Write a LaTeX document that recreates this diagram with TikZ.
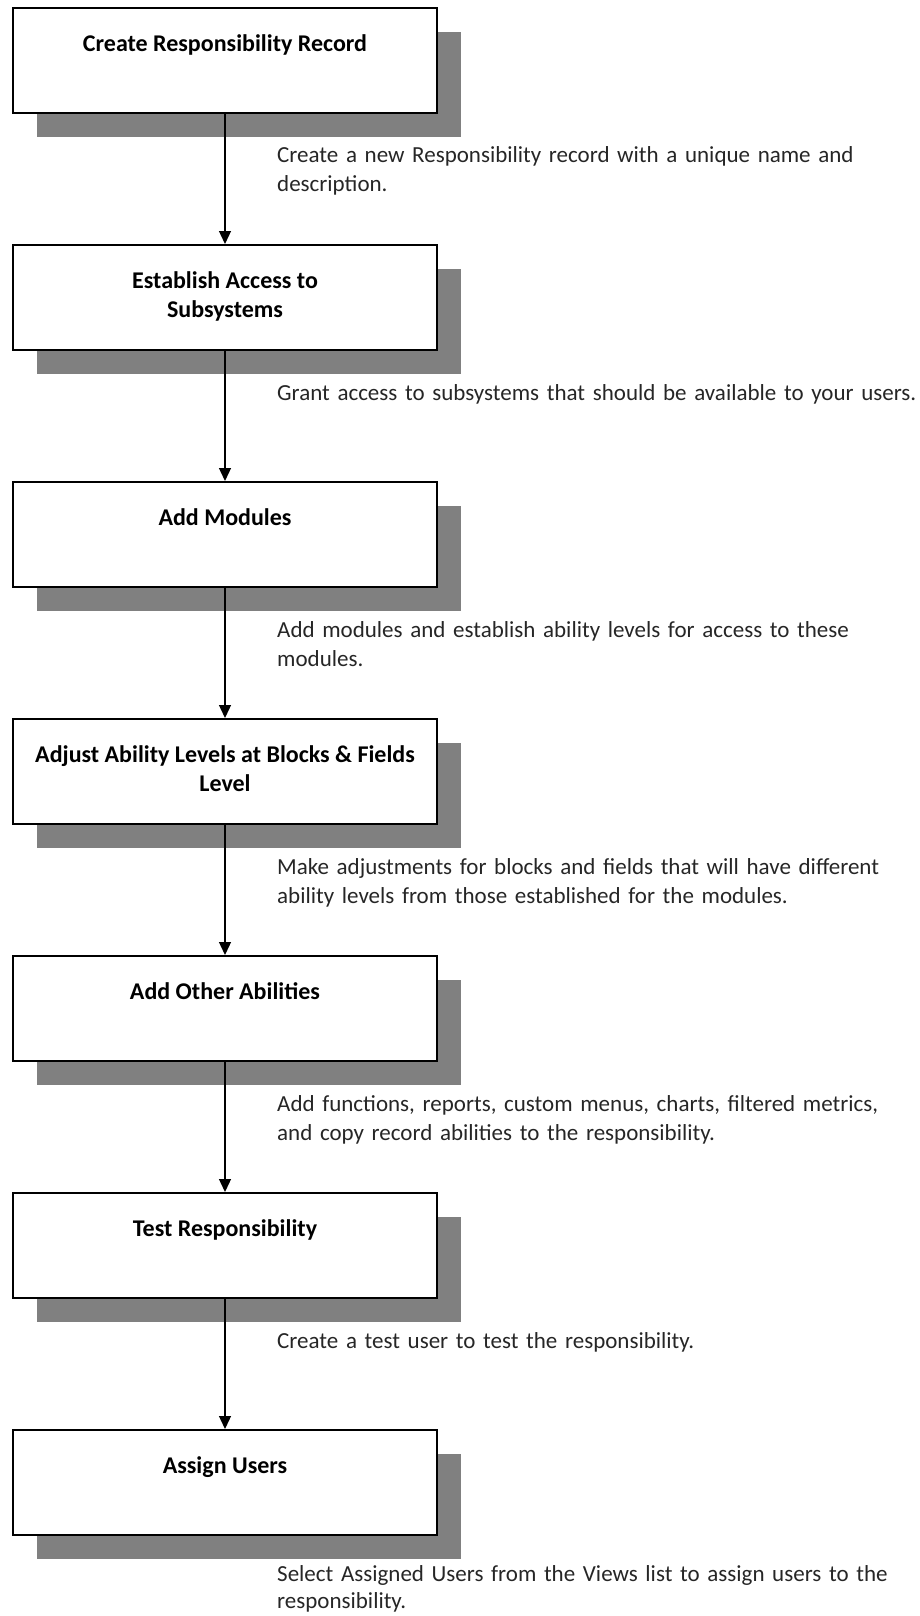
\documentclass[tikz,border=0pt]{standalone}
\usepackage{fontspec}
\setmainfont{Carlito}
\usetikzlibrary{arrows.meta,shadows}
\definecolor{shadowgray}{HTML}{808080}
\definecolor{desctext}{HTML}{262626}
\newcommand{\boxtitle}[1]{\parbox[c][105pt][t]{424pt}{\centering\fontsize{24}{29}\selectfont\bfseries\rule{0pt}{43pt}#1}}
\begin{document}
\begin{tikzpicture}[x=1pt,y=-1pt,
  stepbox/.style={draw=black,line width=2.2pt,fill=white,inner sep=0pt,
    drop shadow={shadow xshift=24pt,shadow yshift=-24pt,fill=shadowgray,opacity=1}},
  desc/.style={anchor=base west,inner sep=0pt,text width=640pt,align=left,
    text=desctext,font=\fontsize{23}{29}\selectfont},
  arr/.style={line width=1.3pt,-{Triangle[width=12pt,length=13pt]}}]
\useasboundingbox (0,0) rectangle (919,1616);
% boxes (top y = 7 + 237 i)
\node[stepbox,anchor=north] (b1) at (225,7)    {\boxtitle{Create Responsibility Record}};
\node[stepbox,anchor=north] (b2) at (225,244)  {\boxtitle{Establish Access to\\Subsystems}};
\node[stepbox,anchor=north] (b3) at (225,481)  {\boxtitle{Add Modules}};
\node[stepbox,anchor=north] (b4) at (225,718)  {\boxtitle{Adjust Ability Levels at Blocks \& Fields\\Level}};
\node[stepbox,anchor=north] (b5) at (225,955)  {\boxtitle{Add Other Abilities}};
\node[stepbox,anchor=north] (b6) at (225,1192) {\boxtitle{Test Responsibility}};
\node[stepbox,anchor=north] (b7) at (225,1429) {\boxtitle{Assign Users}};
% descriptions
\node[desc] (d1) at (277,163)  {Create a new Responsibility record with a unique name and\\description.};
\node[desc] (d2) at (277,400)  {Grant access to subsystems that should be available to your users.};
\node[desc] (d3) at (277,637)  {Add modules and establish ability levels for access to these\\modules.};
\node[desc] (d4) at (277,874)  {Make adjustments for blocks and fields that will have different\\ability levels from those established for the modules.};
\node[desc] (d5) at (277,1111) {Add functions, reports, custom menus, charts, filtered metrics,\\and copy record abilities to the responsibility.};
\node[desc] (d6) at (277,1348) {Create a test user to test the responsibility.};
\node[desc,font=\fontsize{23}{27}\selectfont] (d7) at (277,1581) {Select Assigned Users from the Views list to assign users to the\\responsibility.};
% connectors
\draw[arr] (b1.south) -- (b2.north);
\draw[arr] (b2.south) -- (b3.north);
\draw[arr] (b3.south) -- (b4.north);
\draw[arr] (b4.south) -- (b5.north);
\draw[arr] (b5.south) -- (b6.north);
\draw[arr] (b6.south) -- (b7.north);
\end{tikzpicture}
\end{document}
